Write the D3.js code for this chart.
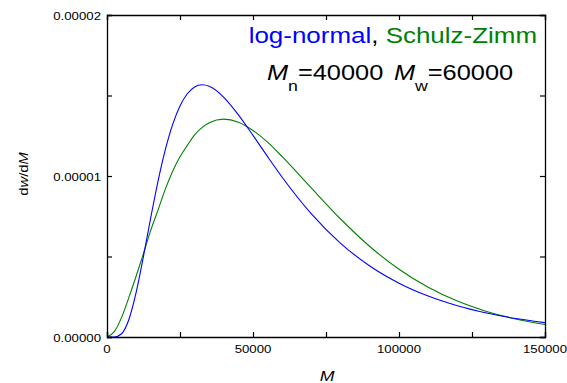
<!DOCTYPE html>
<html>
<head>
<meta charset="utf-8">
<script src="https://cdn.jsdelivr.net/npm/d3@7"></script>
<style>
  body { margin: 0; background: #fff; }
  svg { display: block; font-family: "Liberation Sans", Arial, sans-serif; }
</style>
</head>
<body>
<svg id="chart" width="567" height="383"></svg>
<script>
// molecular weight grid
const massM = [0, 2500, 5000, 7500, 10000, 12500, 15000, 17500, 20000, 22500, 25000, 27500, 30000,
  32500, 35000, 40000, 45000, 50000, 55000, 60000, 70000, 80000, 90000, 100000, 110000, 120000,
  130000, 140000, 150000];

// log-normal dw/dM
const logNormal = [0, 0.0000000045, 0.000000204, 0.000001086, 0.000002785, 0.000005025, 0.00000743,
  0.0000097, 0.000011648, 0.000013203, 0.000014346, 0.000015107, 0.000015528, 0.000015665,
  0.000015573, 0.00001489, 0.0000138, 0.000012524, 0.000011204, 0.000009925, 0.000007648,
  0.00000582, 0.00000441, 0.000003343, 0.000002541, 0.00000194, 0.0000014885, 0.0000011485,
  0.0000008914];

// Schulz-Zimm dw/dM
const schulzZimm = [0, 0.00000033, 0.000001217, 0.00000246, 0.00000379, 0.0000052, 0.00000664,
  0.0000079, 0.0000092, 0.0000103, 0.00001119, 0.0000119, 0.00001255, 0.0000130, 0.00001331,
  0.00001353, 0.00001334, 0.00001283, 0.0000121, 0.0000112, 0.00000925, 0.00000733, 0.00000562,
  0.00000421, 0.00000309, 0.00000223, 0.00000159, 0.000001117, 0.000000778];

const xTicks = [0, 25000, 50000, 75000, 100000, 125000, 150000];
const xLabels = [0, 50000, 100000, 150000];
const yTicks = [0, 0.000005, 0.00001, 0.000015, 0.00002];
const yLabels = ["0.00000", "0.00001", "0.00002"];

const svg = d3.select("#chart");
const plotL = 107, plotR = 545, plotT = 15, plotB = 337;
// the original figure is a bit stretched horizontally, text included
const stretch = 1.18;

const x = d3.scaleLinear().domain([0, 150000]).range([plotL, plotR]);
const y = d3.scaleLinear().domain([0, 0.00002]).range([plotB, plotT]);

// curves
const line = d3.line()
  .x((d, i) => x(massM[i]))
  .y(d => y(d))
  .curve(d3.curveMonotoneX);

svg.append("path").datum(schulzZimm)
  .attr("d", line).attr("fill", "none")
  .attr("stroke", "#008000").attr("stroke-width", 1.1);

svg.append("path").datum(logNormal)
  .attr("d", line).attr("fill", "none")
  .attr("stroke", "#0000ff").attr("stroke-width", 1.1);

// frame with inward ticks
const tickLen = 5;
const bottomAxis = d3.axisBottom(x).tickValues(xTicks).tickSize(-tickLen).tickFormat("");
const topAxis = d3.axisTop(x).tickValues(xTicks).tickSize(-tickLen).tickFormat("");
const leftAxis = d3.axisLeft(y).tickValues(yTicks).tickSize(-tickLen).tickFormat("");
const rightAxis = d3.axisRight(y).tickValues(yTicks).tickSize(-tickLen).tickFormat("");

[[bottomAxis, `translate(0,${plotB})`], [topAxis, `translate(0,${plotT})`],
 [leftAxis, `translate(${plotL},0)`], [rightAxis, `translate(${plotR},0)`]].forEach(([ax, tr]) => {
  const g = svg.append("g").attr("transform", tr).call(ax);
  g.select(".domain").attr("stroke", "#000").attr("stroke-width", 1.3);
  g.selectAll(".tick line").attr("stroke", "#000").attr("stroke-width", 1.2);
});

// helper: text placed at (px,py), stretched along its run
function label(px, py, anchor, size, rot) {
  const g = svg.append("g")
    .attr("transform", `translate(${px},${py})` + (rot ? ` rotate(${rot})` : "") + ` scale(${stretch},1)`);
  return g.append("text")
    .attr("text-anchor", anchor)
    .attr("font-size", size)
    .attr("fill", "#000");
}

// tick labels
xLabels.forEach(v => label(x(v), 353, "middle", 11.2).text(v));
yLabels.forEach(v => label(101, y(+v) + 4.5, "end", 11.2).text(v));

// axis titles
label(x(75000) + 1, 381, "middle", 15).attr("font-style", "italic").text("M");

const yTitle = label(28, 174, "middle", 12.5, -90);
yTitle.append("tspan").text("d");
yTitle.append("tspan").attr("font-style", "italic").text("w");
yTitle.append("tspan").text("/d");
yTitle.append("tspan").attr("font-style", "italic").text("M");

// legend text
const leg = label(537, 43, "end", 22);
leg.append("tspan").attr("fill", "#0000ff").text("log-normal");
leg.append("tspan").attr("fill", "#000").text(", ");
leg.append("tspan").attr("fill", "#008000").text("Schulz-Zimm");

const mm = label(267, 80, "start", 21.5);
mm.append("tspan").attr("font-style", "italic").text("M");
mm.append("tspan").attr("font-size", 15).attr("dy", 11).text("n");
mm.append("tspan").attr("dy", -11).text("=40000");
mm.append("tspan").attr("dx", 9).attr("font-style", "italic").text("M");
mm.append("tspan").attr("font-size", 15).attr("dy", 11).text("w");
mm.append("tspan").attr("dy", -11).text("=60000");
</script>
</body>
</html>
